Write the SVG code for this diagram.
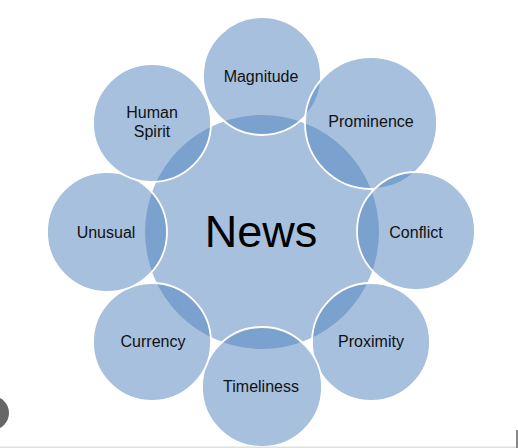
<svg xmlns="http://www.w3.org/2000/svg" width="518" height="448" viewBox="0 0 518 448">
  <style>
    .hub { fill: #4F81BD; fill-opacity: 0.5; stroke: none; }
    .sat { fill: #4F81BD; fill-opacity: 0.5; stroke: #FFFFFF; stroke-width: 1.8; }
    .lbl { font-family: "Liberation Sans", Arial, sans-serif; font-size: 16px; fill: #111111; text-anchor: middle; }
    .big { font-family: "Liberation Sans", Arial, sans-serif; font-size: 45px; fill: #000000; text-anchor: middle; }
  </style>
  <rect x="0" y="0" width="518" height="448" fill="#FFFFFF"/>
  <g id="news">
    <circle class="hub" cx="262" cy="232" r="117"/>
  </g>
  <g id="magnitude">
    <circle class="sat" cx="262" cy="76" r="59"/>
    <text class="lbl" x="261" y="82">Magnitude</text>
  </g>
  <g id="prominence">
    <circle class="sat" cx="371" cy="123" r="66"/>
    <text class="lbl" x="371" y="127">Prominence</text>
  </g>
  <g id="conflict">
    <circle class="sat" cx="416" cy="231" r="59"/>
    <text class="lbl" x="416" y="238">Conflict</text>
  </g>
  <g id="proximity">
    <circle class="sat" cx="371" cy="342" r="59"/>
    <text class="lbl" x="371" y="347">Proximity</text>
  </g>
  <g id="timeliness">
    <circle class="sat" cx="262" cy="387" r="60"/>
    <text class="lbl" x="261" y="392">Timeliness</text>
  </g>
  <g id="currency">
    <circle class="sat" cx="152" cy="342" r="59"/>
    <text class="lbl" x="153" y="347">Currency</text>
  </g>
  <g id="unusual">
    <circle class="sat" cx="107" cy="232" r="60"/>
    <text class="lbl" x="106" y="238">Unusual</text>
  </g>
  <g id="human-spirit">
    <circle class="sat" cx="152" cy="123" r="59"/>
    <text class="lbl" x="152" y="118">Human</text>
    <text class="lbl" x="152" y="137">Spirit</text>
  </g>
  <g id="news-label">
    <text class="big" x="261" y="247">News</text>
  </g>
  <g id="ui-artifacts">
    <circle cx="-8" cy="413" r="17" fill="#666666"/>
    <rect x="0" y="446.5" width="518" height="1.5" fill="#E0E0E0"/>
    <rect x="516" y="430" width="2" height="18" fill="#888888"/>
  </g>
</svg>
